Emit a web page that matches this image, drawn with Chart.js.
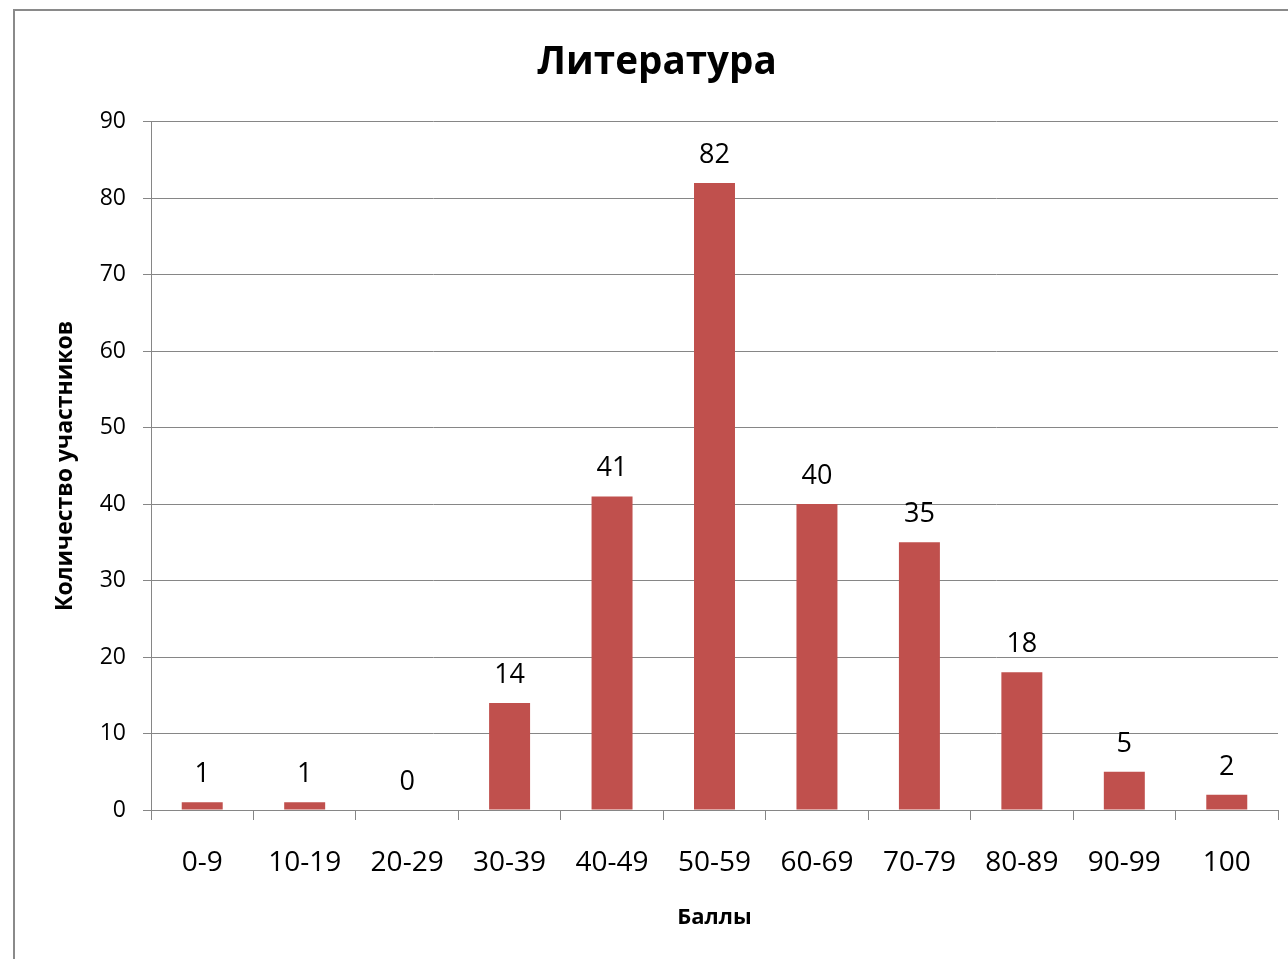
<!DOCTYPE html>
<html>
<head>
<meta charset="utf-8">
<script src="https://cdn.jsdelivr.net/npm/chart.js@4"></script>
<style>
  html, body { margin: 0; padding: 0; background: #fff; overflow: hidden; width: 1288px; height: 959px; }
  #frame { position: absolute; left: 13px; top: 9px; width: 1400px; height: 1100px; border: 2px solid #8a8a8a; box-sizing: border-box; }
  #wrap { position: absolute; left: 15px; top: 11px; width: 1284px; height: 948px; }
</style>
</head>
<body>
<div id="frame"></div>
<div id="wrap"><canvas id="c" width="1284" height="948"></canvas></div>
<script>
const titleText = 'Литература';
const xTitle = 'Баллы';
const yTitle = 'Количество участников';
const categories = ['0-9', '10-19', '20-29', '30-39', '40-49', '50-59', '60-69', '70-79', '80-89', '90-99', '100'];
const counts = [1, 1, 0, 14, 41, 82, 40, 35, 18, 5, 2];
const yMin = 0, yMax = 90, yStep = 10;

const FONT = "'Open Sans', sans-serif";
const GRID = '#868686';

const valueLabels = {
  id: 'valueLabels',
  afterDatasetsDraw(chart) {
    const ctx = chart.ctx;
    const meta = chart.getDatasetMeta(0);
    ctx.save();
    ctx.font = "27px " + FONT;
    ctx.fillStyle = '#000';
    ctx.textAlign = 'center';
    ctx.textBaseline = 'alphabetic';
    meta.data.forEach((bar, i) => {
      ctx.fillText(String(counts[i]), bar.x, bar.y - 20);
    });
    ctx.restore();
  }
};

new Chart(document.getElementById('c'), {
  type: 'bar',
  data: {
    labels: categories,
    datasets: [{
      data: counts,
      backgroundColor: '#C0504D',
      borderWidth: 0,
      categoryPercentage: 1.0,
      barPercentage: 0.4
    }]
  },
  options: {
    responsive: false,
    animation: false,
    devicePixelRatio: 1,
    layout: { padding: { left: 21, right: 21, top: 0, bottom: 0 } },
    plugins: {
      legend: { display: false },
      tooltip: { enabled: false },
      title: {
        display: true,
        text: titleText,
        color: '#000',
        font: { family: FONT, size: 38.6, weight: 'bold', lineHeight: 1.2 },
        padding: { top: 29, bottom: 35.4 }
      }
    },
    scales: {
      x: {
        grid: { display: true, offset: true, drawOnChartArea: false, drawTicks: true, tickLength: 10, color: GRID, lineWidth: 1 },
        border: { display: true, color: GRID, width: 1 },
        ticks: { color: '#000', font: { family: FONT, size: 28 }, padding: 26, maxRotation: 0, autoSkip: false },
        title: { display: true, text: xTitle, color: '#000', font: { family: FONT, size: 22, weight: 'bold', lineHeight: 1.2 }, padding: { top: 0, bottom: 28.4 } },
        afterFit(scale) { scale.height = 149; }
      },
      y: {
        min: yMin, max: yMax,
        grid: { color: GRID, lineWidth: 1, drawTicks: true, tickLength: 8 },
        border: { display: true, color: GRID, width: 1 },
        ticks: { stepSize: yStep, color: '#000', font: { family: FONT, size: 23 }, padding: 17 },
        title: { display: true, text: yTitle, color: '#000', font: { family: FONT, size: 23, weight: 'bold', lineHeight: 1.2 }, padding: { top: 15.2, bottom: 0 } },
        afterFit(scale) { scale.width = 115; }
      }
    }
  },
  plugins: [valueLabels]
});
</script>
</body>
</html>
